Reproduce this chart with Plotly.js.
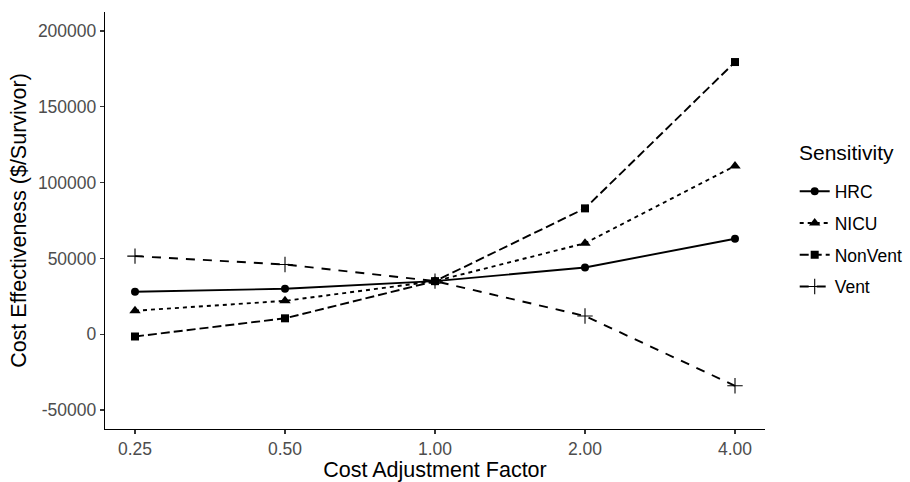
<!DOCTYPE html>
<html>
<head>
<meta charset="utf-8">
<script src="https://cdn.plot.ly/plotly-3.0.1.min.js"></script>
<style>html,body{margin:0;padding:0;background:#fff;}#chart{width:910px;height:482px;}</style>
</head>
<body>
<div id="chart"></div>
<script>
const factors = ["0.25", "0.50", "1.00", "2.00", "4.00"];
const hrc = [28000, 30000, 35000, 44000, 63000];
const nicu = [15500, 22000, 35000, 60000, 111000];
const nonVent = [-1500, 10500, 35000, 83000, 179500];
const vent = [51500, 46000, 35000, 12000, -34000];
const seriesNames = ["HRC", "NICU", "NonVent", "Vent"];
const yTicks = [-50000, 0, 50000, 100000, 150000, 200000];

const styles = [
  {dash: "solid", symbol: "circle", size: 8, lw: 0},
  {dash: "4px,4px", symbol: "triangle-up", size: 10, lw: 0},
  {dash: "9px,4px", symbol: "square", size: 8, lw: 0},
  {dash: "9px,8px", symbol: "cross-thin-open", size: 11, lw: 1.1}
];
const values = [hrc, nicu, nonVent, vent];

const traces = seriesNames.map((name, i) => ({
  x: factors,
  y: values[i],
  name: name,
  type: "scatter",
  mode: "lines+markers",
  legendgroup: name,
  line: {color: "#000000", width: 1.9, dash: styles[i].dash},
  marker: {color: "#000000", symbol: styles[i].symbol, size: styles[i].size,
           line: {color: "#000000", width: styles[i].lw}}
}));

const layout = {
  width: 910, height: 482,
  margin: {l: 105, r: 145, t: 12, b: 53, autoexpand: false},
  paper_bgcolor: "#ffffff",
  plot_bgcolor: "#ffffff",
  font: {family: "Liberation Sans, Arial, sans-serif", color: "#000000"},
  xaxis: {
    type: "category",
    range: [-0.2, 4.2],
    showgrid: false, zeroline: false,
    showline: true, linecolor: "#000000", linewidth: 1.2,
    ticks: "outside", ticklen: 4, tickcolor: "#333333", tickwidth: 1.1,
    tickfont: {size: 17.5, color: "#4D4D4D"},
    title: {text: "Cost Adjustment Factor", font: {size: 21.5, color: "#000000"}, standoff: 2}
  },
  yaxis: {
    range: [-62500, 212500],
    tickvals: yTicks,
    ticktext: yTicks.map(String),
    showgrid: false, zeroline: false,
    showline: true, linecolor: "#000000", linewidth: 1.2,
    ticks: "outside", ticklen: 4, tickcolor: "#333333", tickwidth: 1.1,
    tickfont: {size: 17.5, color: "#4D4D4D"},
    title: {text: "Cost Effectiveness ($/Survivor)", font: {size: 21.5, color: "#000000"}, standoff: 5}
  },
  showlegend: true,
  legend: {
    x: 1.045, xanchor: "left", y: 0.613, yanchor: "top",
    font: {size: 17.5, color: "#000000"},
    traceorder: "grouped",
    tracegroupgap: 6,
    itemwidth: 30,
    bgcolor: "rgba(0,0,0,0)"
  },
  annotations: [{
    text: "Sensitivity",
    xref: "paper", yref: "paper",
    x: (797 - 105) / 660, y: (429 - 152) / 417,
    xanchor: "left", yanchor: "middle",
    showarrow: false,
    font: {size: 21, color: "#000000"}
  }]
};

Plotly.newPlot("chart", traces, layout, {displayModeBar: false, staticPlot: true});
</script>
</body>
</html>
